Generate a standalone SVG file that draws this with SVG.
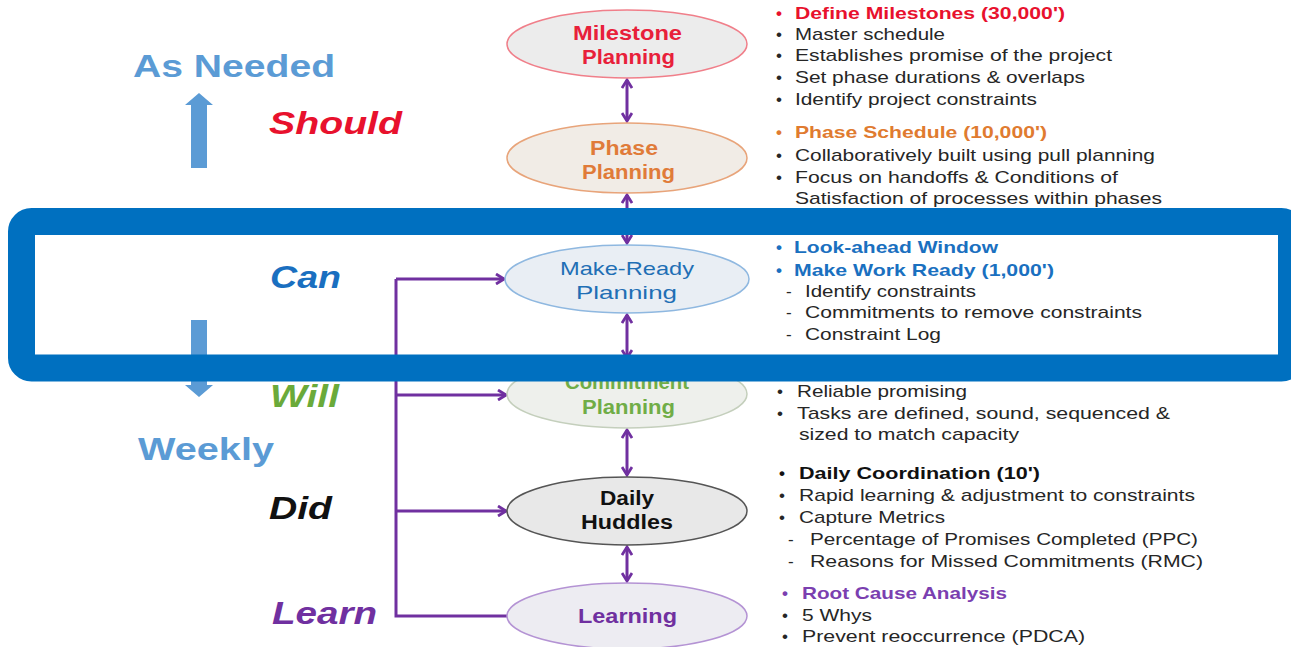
<svg xmlns="http://www.w3.org/2000/svg" width="1291" height="647" viewBox="0 0 1291 647">
<style>
text{font-family:"Liberation Sans",Arial,sans-serif}
.b{font-size:17px;fill:#262626}
.bh{font-size:17px;font-weight:bold}
.nb{font-size:20px;font-weight:bold}
.lb{font-size:32px;font-weight:bold;font-style:italic}
.lf{font-size:32px;font-weight:bold;fill:#5b9bd5}
.conn{fill:none;stroke:#7030a0;stroke-width:3}
.el{stroke-width:1.5}
</style>
<defs>
<marker id="chev" viewBox="0 0 12 12" refX="10" refY="6" markerWidth="12" markerHeight="12" markerUnits="userSpaceOnUse" orient="auto-start-reverse">
<path d="M2,1 L10,6 L2,11" fill="none" stroke="#7030a0" stroke-width="2.8"/>
</marker>
</defs>
<rect width="1291" height="647" fill="#ffffff"/>

<g id="left-labels">
<text class="lf" x="133" y="77" textLength="202" lengthAdjust="spacingAndGlyphs">As Needed</text>
<path d="M191,168 V105 H185 L199,93 L213,105 H207 V168 Z" fill="#5b9bd5"/>
<text class="lb" x="269" y="134" fill="#e8112d" textLength="133" lengthAdjust="spacingAndGlyphs">Should</text>
<text class="lb" x="270" y="288" fill="#1a6fc0" textLength="71" lengthAdjust="spacingAndGlyphs">Can</text>
<path d="M191,320 V385 H185 L199,397 L213,385 H207 V320 Z" fill="#5b9bd5"/>
<text class="lb" x="270" y="407" fill="#6aaa3a" textLength="69" lengthAdjust="spacingAndGlyphs">Will</text>
<text class="lf" x="138" y="460" textLength="136" lengthAdjust="spacingAndGlyphs">Weekly</text>
<text class="lb" x="269" y="519" fill="#111111" textLength="63" lengthAdjust="spacingAndGlyphs">Did</text>
<text class="lb" x="272" y="624" fill="#7030a0" textLength="105" lengthAdjust="spacingAndGlyphs">Learn</text>
</g>

<g id="connectors">
<line class="conn" x1="627" y1="80" x2="627" y2="121" marker-start="url(#chev)" marker-end="url(#chev)"/>
<line class="conn" x1="627" y1="195" x2="627" y2="243" marker-start="url(#chev)" marker-end="url(#chev)"/>
<line class="conn" x1="627" y1="315" x2="627" y2="358" marker-start="url(#chev)" marker-end="url(#chev)"/>
<line class="conn" x1="627" y1="430" x2="627" y2="475" marker-start="url(#chev)" marker-end="url(#chev)"/>
<line class="conn" x1="627" y1="547" x2="627" y2="581" marker-start="url(#chev)" marker-end="url(#chev)"/>
<path class="conn" d="M507,616 H396 V279"/>
<line class="conn" x1="396" y1="279" x2="504" y2="279" marker-end="url(#chev)"/>
<line class="conn" x1="396" y1="395" x2="506" y2="395" marker-end="url(#chev)"/>
<line class="conn" x1="396" y1="511" x2="506" y2="511" marker-end="url(#chev)"/>
</g>

<g id="milestone">
<ellipse class="el" cx="627" cy="44" rx="120" ry="34" fill="#ececec" stroke="#f07f8a"/>
<text class="nb" x="573" y="40" fill="#e8203a" textLength="109" lengthAdjust="spacingAndGlyphs">Milestone</text>
<text class="nb" x="582" y="64" fill="#e8203a" textLength="93" lengthAdjust="spacingAndGlyphs">Planning</text>
</g>
<g id="phase">
<ellipse class="el" cx="627" cy="158" rx="120" ry="35" fill="#f1ece6" stroke="#e8a47a"/>
<text class="nb" x="590" y="155" fill="#e07b39" textLength="68" lengthAdjust="spacingAndGlyphs">Phase</text>
<text class="nb" x="582" y="179" fill="#e07b39" textLength="93" lengthAdjust="spacingAndGlyphs">Planning</text>
</g>
<g id="make-ready">
<ellipse class="el" cx="627" cy="279" rx="122" ry="34" fill="#e9eef4" stroke="#8fb8e0"/>
<text x="560" y="275" font-size="19" fill="#1f6fb5" textLength="134" lengthAdjust="spacingAndGlyphs">Make-Ready</text>
<text x="576" y="299" font-size="19" fill="#1f6fb5" textLength="101" lengthAdjust="spacingAndGlyphs">Planning</text>
</g>
<g id="commitment">
<ellipse class="el" cx="627" cy="394" rx="120" ry="34" fill="#eef0ec" stroke="#c4cfbc"/>
<text class="nb" x="565" y="389" fill="#70ad47" textLength="124" lengthAdjust="spacingAndGlyphs">Commitment</text>
<text class="nb" x="582" y="414" fill="#70ad47" textLength="93" lengthAdjust="spacingAndGlyphs">Planning</text>
</g>
<g id="daily">
<ellipse class="el" cx="627" cy="511" rx="120" ry="34" fill="#e8e8e8" stroke="#555555"/>
<text class="nb" x="600" y="505" fill="#111111" textLength="54" lengthAdjust="spacingAndGlyphs">Daily</text>
<text class="nb" x="581" y="529" fill="#111111" textLength="92" lengthAdjust="spacingAndGlyphs">Huddles</text>
</g>
<g id="learning">
<ellipse class="el" cx="627" cy="616" rx="120" ry="33" fill="#edecf2" stroke="#b493d4"/>
<text class="nb" x="578" y="623" fill="#7030a0" textLength="99" lengthAdjust="spacingAndGlyphs">Learning</text>
</g>

<g id="notes">
<text class="bh" x="776" y="19" fill="#e8112d">•</text>
<text class="bh" x="795" y="19" fill="#e8112d" textLength="270" lengthAdjust="spacingAndGlyphs">Define Milestones (30,000')</text>
<text class="b" x="776" y="40">•</text>
<text class="b" x="795" y="40" textLength="150" lengthAdjust="spacingAndGlyphs">Master schedule</text>
<text class="b" x="776" y="61">•</text>
<text class="b" x="795" y="61" textLength="317" lengthAdjust="spacingAndGlyphs">Establishes promise of the project</text>
<text class="b" x="776" y="83">•</text>
<text class="b" x="795" y="83" textLength="290" lengthAdjust="spacingAndGlyphs">Set phase durations &amp; overlaps</text>
<text class="b" x="776" y="105">•</text>
<text class="b" x="795" y="105" textLength="242" lengthAdjust="spacingAndGlyphs">Identify project constraints</text>

<text class="bh" x="776" y="138" fill="#e07b30">•</text>
<text class="bh" x="795" y="138" fill="#e07b30" textLength="252" lengthAdjust="spacingAndGlyphs">Phase Schedule (10,000')</text>
<text class="b" x="776" y="161">•</text>
<text class="b" x="795" y="161" textLength="360" lengthAdjust="spacingAndGlyphs">Collaboratively built using pull planning</text>
<text class="b" x="776" y="183">•</text>
<text class="b" x="795" y="183" textLength="323" lengthAdjust="spacingAndGlyphs">Focus on handoffs &amp; Conditions of</text>
<text class="b" x="795" y="204" textLength="367" lengthAdjust="spacingAndGlyphs">Satisfaction of processes within phases</text>

<text class="bh" x="776" y="253" fill="#1a70c0">•</text>
<text class="bh" x="794" y="253" fill="#1a70c0" textLength="204" lengthAdjust="spacingAndGlyphs">Look-ahead Window</text>
<text class="bh" x="776" y="276" fill="#1a70c0">•</text>
<text class="bh" x="794" y="276" fill="#1a70c0" textLength="260" lengthAdjust="spacingAndGlyphs">Make Work Ready (1,000')</text>
<text class="b" x="786" y="297">-</text>
<text class="b" x="805" y="297" textLength="171" lengthAdjust="spacingAndGlyphs">Identify constraints</text>
<text class="b" x="786" y="318">-</text>
<text class="b" x="805" y="318" textLength="337" lengthAdjust="spacingAndGlyphs">Commitments to remove constraints</text>
<text class="b" x="786" y="340">-</text>
<text class="b" x="805" y="340" textLength="136" lengthAdjust="spacingAndGlyphs">Constraint Log</text>

<text class="b" x="777" y="397">•</text>
<text class="b" x="797" y="397" textLength="170" lengthAdjust="spacingAndGlyphs">Reliable promising</text>
<text class="b" x="777" y="419">•</text>
<text class="b" x="797" y="419" textLength="373" lengthAdjust="spacingAndGlyphs">Tasks are defined, sound, sequenced &amp;</text>
<text class="b" x="799" y="440" textLength="220" lengthAdjust="spacingAndGlyphs">sized to match capacity</text>

<text class="bh" x="779" y="479" fill="#111111">•</text>
<text class="bh" x="799" y="479" fill="#111111" textLength="241" lengthAdjust="spacingAndGlyphs">Daily Coordination (10')</text>
<text class="b" x="779" y="501">•</text>
<text class="b" x="799" y="501" textLength="396" lengthAdjust="spacingAndGlyphs">Rapid learning &amp; adjustment to constraints</text>
<text class="b" x="779" y="523">•</text>
<text class="b" x="799" y="523" textLength="146" lengthAdjust="spacingAndGlyphs">Capture Metrics</text>
<text class="b" x="788" y="545">-</text>
<text class="b" x="810" y="545" textLength="388" lengthAdjust="spacingAndGlyphs">Percentage of Promises Completed (PPC)</text>
<text class="b" x="788" y="567">-</text>
<text class="b" x="810" y="567" textLength="393" lengthAdjust="spacingAndGlyphs">Reasons for Missed Commitments (RMC)</text>

<text class="bh" x="782" y="599" fill="#7b3fb0">•</text>
<text class="bh" x="802" y="599" fill="#7b3fb0" textLength="205" lengthAdjust="spacingAndGlyphs">Root Cause Analysis</text>
<text class="b" x="782" y="621">•</text>
<text class="b" x="802" y="621" textLength="70" lengthAdjust="spacingAndGlyphs">5 Whys</text>
<text class="b" x="782" y="642">•</text>
<text class="b" x="802" y="642" textLength="283" lengthAdjust="spacingAndGlyphs">Prevent reoccurrence (PDCA)</text>
</g>

<g id="highlight">
<rect x="21.5" y="221.5" width="1270" height="146.5" rx="10" fill="none" stroke="#0070c0" stroke-width="27"/>
</g>
</svg>
